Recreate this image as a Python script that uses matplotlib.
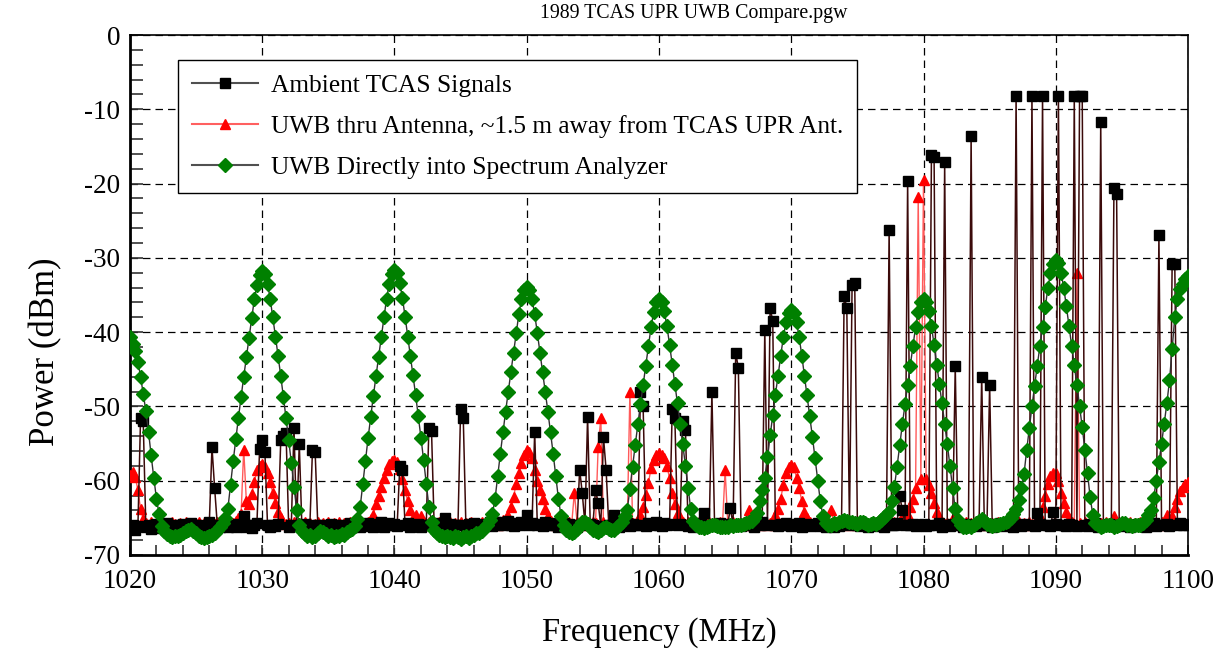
import numpy as np
import matplotlib.pyplot as plt
from matplotlib.ticker import MultipleLocator
from matplotlib.lines import Line2D

plt.rcParams['font.family'] = ['Liberation Serif', 'DejaVu Serif']
plt.rcParams['axes.unicode_minus'] = False

# spectrum analyzer sweep: 1020 - 1100 MHz, 401 points (0.2 MHz step)
f_start, f_stop, n_pts = 1020.0, 1100.0, 401
freq = np.linspace(f_start, f_stop, n_pts)

# Ambient TCAS signals (dBm), one row = 2 MHz
ambient = [
    -66.4, -66.0, -66.6, -66.1, -51.5, -52.0, -66.3, -65.9, -66.5, -66.2,
    -65.8, -66.4, -66.0, -66.3, -65.7, -66.1, -66.5, -65.9, -66.2, -66.0,
    -65.8, -66.3, -66.1, -65.7, -66.4, -66.0, -66.2, -65.9, -66.5, -66.1,
    -65.6, -55.5, -61.0, -65.9, -66.3, -66.0, -65.8, -66.2, -65.9, -66.1,
    -66.3, -65.8, -66.0, -64.8, -66.2, -65.9, -66.4, -66.0, -65.7, -55.7,
    -54.5, -56.1, -66.0, -66.3, -65.9, -66.1, -65.8, -54.5, -54.0, -53.6,
    -66.2, -65.9, -52.9, -66.1, -55.0, -66.3, -65.8, -66.2, -66.0, -55.8,
    -56.1, -66.0, -66.4, -65.9, -66.1, -66.3, -65.8, -66.2, -66.0, -66.4,
    -65.9, -66.2, -66.0, -65.7, -66.3, -66.1, -65.8, -66.2, -65.9, -66.1,
    -65.7, -66.0, -66.3, -65.8, -66.1, -65.6, -66.2, -65.9, -65.7, -66.0,
    -65.8, -66.1, -58.0, -58.5, -66.0, -65.7, -66.2, -65.9, -66.1, -65.8,
    -66.2, -65.9, -66.0, -52.9, -53.3, -66.1, -65.7, -66.0, -65.8, -65.0,
    -66.1, -65.8, -66.2, -65.9, -66.0, -50.3, -51.6, -66.1, -65.8, -66.0,
    -65.7, -66.1, -65.9, -66.2, -65.8, -66.0, -65.6, -66.1, -65.5, -65.9,
    -65.6, -66.0, -65.8, -65.4, -65.9, -66.1, -65.7, -65.9, -65.6, -65.8,
    -64.6, -65.9, -65.7, -53.4, -66.0, -65.8, -66.1, -65.6, -65.9, -65.7,
    -66.0, -65.8, -66.2, -65.9, -65.7, -66.1, -65.8, -66.0, -65.9, -66.2,
    -58.5, -61.7, -65.9, -51.4, -65.8, -66.0, -61.2, -63.0, -66.1, -54.1,
    -58.5, -65.9, -66.0, -64.6, -65.9, -66.2, -65.8, -66.0, -65.7, -66.1,
    -65.8, -66.0, -65.9, -48.0, -50.0, -66.1, -65.7, -66.0, -65.8, -65.6,
    -65.9, -66.1, -65.7, -66.0, -65.8, -50.4, -51.6, -66.0, -65.8, -52.0,
    -53.2, -66.1, -65.9, -66.2, -65.8, -66.0, -65.7, -64.4, -65.9, -66.1,
    -48.1, -65.8, -66.0, -65.7, -66.2, -65.9, -65.8, -63.7, -66.0, -42.8,
    -44.8, -66.1, -65.8, -66.0, -65.7, -65.9, -66.2, -65.8, -66.0, -65.6,
    -39.7, -66.0, -36.7, -38.5, -65.9, -66.1, -65.8, -66.0, -65.7, -65.9,
    -66.1, -65.8, -66.0, -65.7, -66.2, -65.9, -65.8, -66.1, -65.9, -66.0,
    -65.7, -66.1, -65.9, -66.3, -65.8, -66.0, -66.2, -65.9, -66.1, -65.8,
    -35.1, -36.7, -66.0, -33.6, -33.4, -65.9, -66.1, -65.8, -66.0, -66.2,
    -65.8, -66.0, -65.7, -66.1, -65.9, -66.2, -65.8, -26.2, -66.0, -65.9,
    -65.7, -62.1, -63.9, -65.9, -19.6, -66.0, -65.8, -66.1, -65.9, -66.0,
    -65.8, -66.1, -65.9, -16.1, -16.4, -66.0, -65.7, -66.2, -17.1, -65.9,
    -66.1, -65.8, -44.6, -66.0, -65.9, -66.2, -65.8, -66.0, -13.6, -65.9,
    -66.1, -65.8, -46.0, -66.0, -65.9, -47.1, -66.2, -65.8, -66.0, -65.7,
    -66.1, -65.9, -66.0, -65.8, -66.2, -8.2, -65.9, -66.1, -65.8, -66.0,
    -65.9, -8.2, -66.1, -64.4, -65.8, -8.2, -66.0, -65.9, -66.1, -64.2,
    -65.8, -8.2, -66.0, -65.9, -66.1, -65.8, -66.0, -8.2, -66.1, -8.2,
    -8.2, -65.9, -66.1, -65.8, -66.0, -65.7, -66.2, -11.7, -65.9, -66.1,
    -65.8, -66.0, -20.6, -21.4, -65.9, -66.1, -65.8, -66.0, -66.2, -65.9,
    -66.1, -65.8, -66.0, -65.9, -66.2, -65.8, -66.0, -65.7, -66.1, -26.9,
    -65.9, -66.0, -65.8, -66.1, -30.8, -30.8, -65.9, -65.7, -66.0, -65.8,
    -65.9,
]

# UWB through antenna, ~1.5 m from TCAS UPR antenna (dBm)
uwb_antenna = [
    -59.2, -58.8, -59.5, -61.3, -63.8, -65.2, -65.7, -65.9, -65.6, -65.8,
    -65.9, -65.6, -65.8, -66.0, -65.7, -65.9, -65.6, -65.8, -66.0, -65.7,
    -65.8, -65.6, -65.9, -65.7, -66.0, -65.8, -65.6, -65.9, -65.7, -65.8,
    -65.9, -65.7, -65.8, -65.6, -65.9, -65.7, -65.8, -65.6, -65.9, -65.7,
    -65.4, -65.0, -64.5, -55.8, -62.8, -63.2, -61.8, -60.2, -58.6, -58.0,
    -57.8, -58.2, -58.9, -60.2, -61.6, -63.0, -64.2, -65.0, -65.6, -65.8,
    -65.7, -65.9, -65.6, -65.8, -65.7, -65.9, -65.6, -65.8, -65.7, -65.9,
    -65.8, -65.6, -65.9, -65.7, -65.8, -65.6, -65.9, -65.7, -65.8, -65.6,
    -65.9, -65.7, -65.8, -65.6, -65.9, -65.7, -65.8, -65.6, -65.7, -65.9,
    -65.6, -65.2, -64.6, -63.2, -62.0, -60.8, -59.6, -58.5, -57.8, -57.4,
    -57.2, -57.5, -58.4, -59.8, -61.3, -62.8, -64.0, -65.0, -64.6, -65.4,
    -64.7, -65.5, -65.8, -65.6, -65.9, -65.7, -65.8, -65.6, -65.9, -65.7,
    -65.8, -65.6, -65.9, -65.7, -65.8, -65.6, -65.9, -65.7, -65.8, -65.6,
    -65.9, -65.7, -65.8, -65.6, -65.9, -65.7, -65.8, -65.6, -65.7, -65.9,
    -65.6, -65.3, -65.0, -64.8, -63.6, -62.2, -60.4, -59.0, -57.6, -56.5,
    -55.9, -56.1, -57.0, -58.5, -60.1, -61.3, -62.5, -63.8, -64.8, -65.4,
    -65.7, -65.9, -65.6, -65.8, -65.7, -65.9, -65.6, -65.8, -61.6, -65.5,
    -65.8, -65.6, -65.9, -65.7, -65.8, -65.6, -65.7, -55.4, -51.6, -65.6,
    -65.9, -65.7, -65.8, -65.6, -65.9, -65.7, -65.8, -65.6, -65.9, -48.0,
    -65.7, -65.8, -65.3, -64.6, -63.5, -61.9, -60.3, -58.3, -57.2, -56.6,
    -56.3, -56.5, -57.0, -58.0, -59.7, -61.6, -63.2, -64.4, -65.2, -65.6,
    -65.8, -65.6, -65.9, -65.7, -65.8, -65.6, -65.9, -65.7, -65.8, -65.6,
    -65.9, -65.7, -65.8, -65.6, -65.9, -58.6, -65.7, -65.8, -65.6, -65.9,
    -65.7, -65.8, -65.6, -65.9, -63.9, -65.7, -65.6, -65.8, -65.7, -65.9,
    -65.6, -65.8, -65.7, -65.9, -64.6, -63.8, -62.4, -60.6, -58.9, -58.1,
    -57.9, -58.2, -59.6, -61.0, -62.8, -64.2, -65.0, -65.6, -65.8, -65.7,
    -65.9, -65.6, -65.8, -65.7, -65.9, -63.9, -65.6, -65.8, -65.7, -65.9,
    -65.6, -65.8, -65.7, -65.9, -65.6, -65.8, -65.7, -65.9, -65.6, -65.8,
    -65.7, -65.9, -65.6, -65.8, -65.7, -65.9, -65.6, -65.8, -65.7, -65.5,
    -65.8, -65.4, -65.0, -65.2, -64.6, -63.6, -62.4, -61.0, -21.8, -59.8,
    -19.5, -59.8, -60.6, -61.7, -63.0, -64.2, -65.0, -65.6, -65.8, -65.7,
    -65.9, -65.6, -64.5, -65.8, -65.7, -65.9, -65.6, -65.8, -65.7, -65.9,
    -65.6, -65.8, -65.7, -65.9, -65.6, -65.8, -65.7, -65.9, -65.6, -65.8,
    -65.7, -65.9, -65.6, -65.8, -65.7, -65.9, -65.6, -65.8, -65.7, -65.9,
    -65.6, -65.8, -65.7, -65.5, -64.8, -63.6, -62.0, -60.4, -59.4, -58.9,
    -59.0, -60.1, -61.6, -63.0, -64.2, -65.0, -65.6, -65.8, -32.1, -65.7,
    -65.9, -65.6, -65.8, -65.7, -65.9, -65.6, -65.8, -65.7, -65.9, -65.6,
    -65.8, -65.7, -64.8, -65.9, -65.6, -65.8, -65.7, -65.9, -65.6, -65.8,
    -65.7, -65.9, -65.6, -65.8, -65.7, -65.9, -65.6, -65.8, -65.7, -65.9,
    -65.6, -65.8, -64.6, -65.4, -64.8, -63.6, -62.4, -61.4, -60.8, -60.4,
    -60.2,
]

# UWB directly into spectrum analyzer (dBm)
uwb_direct = [
    -40.6, -41.6, -42.6, -44.0, -46.0, -48.3, -50.6, -53.4, -56.6, -59.6,
    -62.4, -64.5, -66.1, -66.8, -67.2, -67.5, -67.6, -67.4, -67.5, -67.3,
    -67.0, -66.8, -66.6, -66.5, -66.8, -67.1, -67.4, -67.6, -67.7, -67.6,
    -67.5, -67.3, -67.0, -66.7, -66.3, -65.7, -65.0, -63.8, -60.6, -57.4,
    -54.4, -51.5, -48.7, -46.0, -43.4, -40.8, -38.1, -35.6, -33.6, -32.3,
    -31.8, -32.2, -33.5, -35.5, -38.0, -40.6, -43.2, -45.9, -48.7, -51.6,
    -54.5, -57.6, -60.8, -63.9, -65.9, -66.8, -67.2, -67.5, -67.3, -67.6,
    -67.4, -67.1, -66.8, -66.9, -67.2, -67.5, -67.3, -67.6, -67.4, -67.5,
    -67.2, -67.3, -66.9, -66.7, -66.5, -66.1, -65.2, -63.6, -60.5, -57.3,
    -54.3, -51.4, -48.6, -45.9, -43.3, -40.7, -38.0, -35.5, -33.5, -32.2,
    -31.7, -32.1, -33.4, -35.4, -37.9, -40.6, -43.2, -45.8, -48.5, -51.3,
    -54.2, -57.2, -60.4, -63.5, -65.6, -66.6, -67.0, -67.3, -67.5, -67.6,
    -67.4, -67.6, -67.7, -67.5, -67.6, -67.8, -67.6, -67.5, -67.7, -67.4,
    -67.3, -67.1, -67.0, -66.8, -66.4, -66.0, -65.3, -64.5, -62.5, -59.4,
    -56.4, -53.5, -50.7, -48.0, -45.4, -42.8, -40.1, -37.6, -35.6, -34.3,
    -33.9, -34.3, -35.6, -37.6, -40.1, -42.8, -45.4, -48.0, -50.7, -53.5,
    -56.4, -59.4, -62.5, -64.8, -65.9, -66.6, -66.9, -67.1, -66.9, -66.5,
    -66.0, -65.6, -65.5, -65.8, -66.2, -66.6, -66.8, -66.9, -66.7, -66.4,
    -66.2, -66.5, -66.7, -66.6, -66.3, -66.0, -65.6, -64.8, -63.9, -61.1,
    -58.1, -55.2, -52.4, -49.7, -47.1, -44.5, -41.8, -39.3, -37.3, -36.0,
    -35.5, -35.9, -37.2, -39.2, -41.7, -44.4, -47.0, -49.6, -52.3, -55.1,
    -58.0, -61.0, -63.8, -65.4, -66.0, -66.2, -66.3, -66.4, -66.3, -66.1,
    -66.0, -65.9, -66.1, -66.3, -66.2, -66.3, -66.2, -66.0, -66.1, -66.0,
    -65.9, -66.0, -65.8, -65.7, -65.6, -65.4, -65.0, -64.3, -62.8, -61.2,
    -59.6, -56.8, -53.9, -51.1, -48.4, -45.9, -43.2, -40.7, -38.7, -37.4,
    -37.0, -37.4, -38.7, -40.7, -43.2, -45.9, -48.5, -51.3, -54.1, -57.0,
    -60.0, -62.8, -64.8, -65.7, -66.0, -65.9, -65.7, -65.8, -65.6, -65.4,
    -65.3, -65.4, -65.6, -65.5, -65.7, -65.8, -65.6, -65.5, -65.7, -65.9,
    -65.8, -65.7, -65.8, -65.6, -65.3, -64.9, -64.6, -64.2, -62.8, -60.8,
    -58.1, -55.2, -52.4, -49.7, -47.1, -44.5, -41.8, -39.3, -37.3, -36.0,
    -35.5, -35.9, -37.2, -39.2, -41.7, -44.4, -47.0, -49.6, -52.3, -55.1,
    -58.0, -61.0, -63.8, -65.3, -65.9, -66.2, -66.3, -66.1, -66.2, -66.0,
    -65.7, -65.4, -65.2, -65.4, -65.8, -66.0, -66.1, -66.0, -65.9, -65.8,
    -65.7, -65.6, -65.4, -65.0, -64.5, -63.8, -62.6, -61.0, -59.1, -55.9,
    -52.9, -50.0, -47.2, -44.5, -41.9, -39.3, -36.6, -34.1, -32.1, -30.8,
    -30.3, -30.7, -32.0, -34.0, -36.5, -39.2, -41.8, -44.4, -47.1, -49.9,
    -52.8, -55.8, -59.0, -62.2, -64.6, -65.7, -66.0, -66.2, -66.1, -65.9,
    -65.9, -66.0, -66.2, -66.1, -65.9, -65.7, -65.7, -65.9, -66.0, -66.1,
    -66.0, -65.9, -65.9, -65.7, -65.3, -64.6, -63.9, -62.3, -60.0, -57.5,
    -55.0, -52.3, -49.6, -46.5, -42.3, -38.0, -35.5, -34.2, -33.5, -32.9,
    -32.5,
]

labels = ["Ambient TCAS Signals",
          "UWB thru Antenna, ~1.5 m away from TCAS UPR Ant.",
          "UWB Directly into Spectrum Analyzer"]

fig = plt.figure(figsize=(12.24, 6.52), dpi=100)
ax = fig.add_axes([0.1062, 0.1488, 0.8644, 0.7975])

# plotting order: red under black, green on top
ax.plot(freq, uwb_antenna, color='#ff5a5a', lw=1.0, marker='^', ms=7.0,
        mfc='#ff0000', mec='#ff0000', zorder=3)
ax.plot(freq, ambient, color='#3b0a0a', lw=1.1, marker='s', ms=7.0,
        mfc='black', mec='black', zorder=4)
ax.plot(freq, uwb_direct, color='#303030', lw=1.0, marker='D', ms=6.8,
        mfc='#008000', mec='#008000', zorder=5)

ax.set_xlim(1020, 1100)
ax.set_ylim(-70, 0)
ax.xaxis.set_major_locator(MultipleLocator(10))
ax.xaxis.set_minor_locator(MultipleLocator(2))
ax.yaxis.set_major_locator(MultipleLocator(10))
ax.yaxis.set_minor_locator(MultipleLocator(2))
ax.tick_params(axis='both', which='both', direction='in', color='#333333',
               top=False, right=False)
ax.tick_params(axis='x', which='both', length=7.5, width=1.2, labelsize=19.5, pad=10)
ax.tick_params(axis='y', which='both', length=9, width=1.2, labelsize=19.5, pad=7)

ax.grid(True, which='major', color='black', linestyle=(0, (6, 4)), linewidth=0.9)
for side in ['left', 'bottom']:
    ax.spines[side].set_linewidth(2.0)
for side in ['top', 'right']:
    ax.spines[side].set_linewidth(1.2)

ax.set_xlabel('Frequency (MHz)', fontsize=23.5)
ax.set_ylabel('Power (dBm)', fontsize=25)
ax.xaxis.set_label_coords(0.5, -0.12)
ax.yaxis.set_label_coords(-0.064, 0.39)

fig.text(0.567, 0.979, '1989 TCAS UPR UWB Compare.pgw', ha='center', va='center',
         fontsize=14.3)

# legend with grey handle lines like the original
handles = [
    Line2D([], [], color='#505050', lw=1.5, marker='s', ms=7.0, mfc='black', mec='black'),
    Line2D([], [], color='#ff6060', lw=1.5, marker='^', ms=7.0, mfc='#ff0000', mec='#ff0000'),
    Line2D([], [], color='#505050', lw=1.5, marker='D', ms=6.8, mfc='#008000', mec='#008000'),
]
leg = ax.legend(handles, labels, loc='upper left', bbox_to_anchor=(0.0454, 0.952),
                borderaxespad=0, fontsize=18.3, frameon=True, fancybox=False,
                edgecolor='black', framealpha=1, handlelength=2.6,
                handletextpad=0.5, labelspacing=0.72, borderpad=0.55)
leg.get_frame().set_linewidth(1.0)
leg.set_zorder(10)

fig.savefig('out.png', dpi=100)
